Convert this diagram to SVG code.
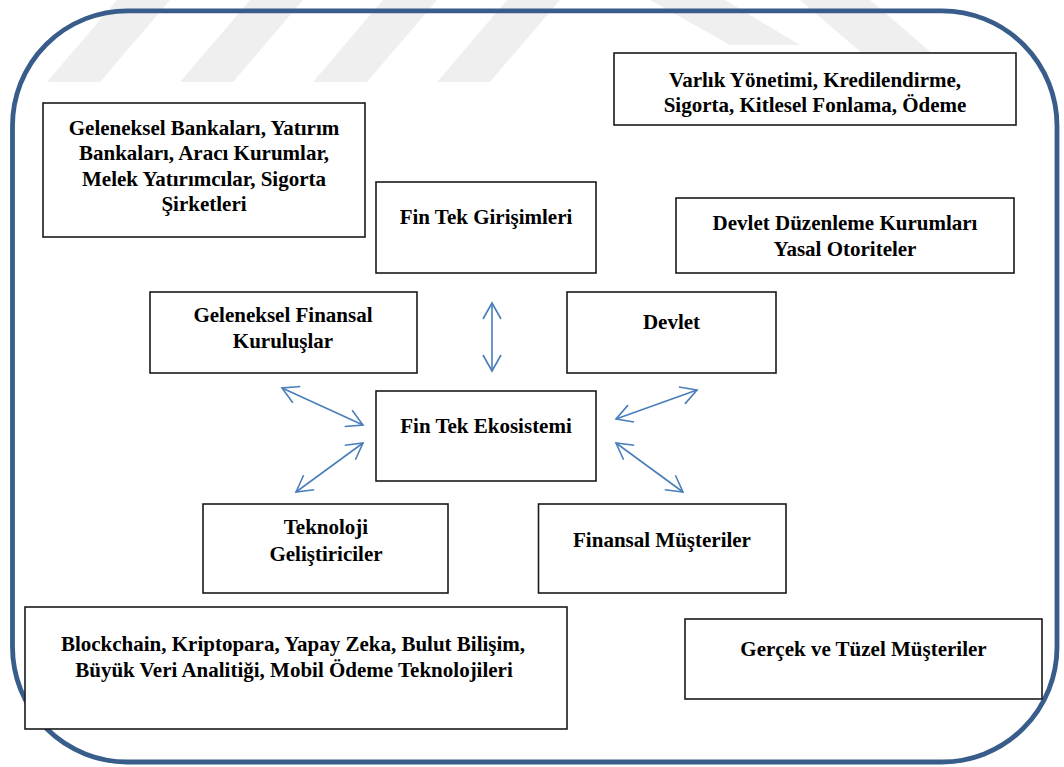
<svg xmlns="http://www.w3.org/2000/svg" width="1064" height="767" viewBox="0 0 1064 767">
  <defs>
    <style>
      .box { fill: #ffffff; stroke: #1a1a1a; stroke-width: 1.6; }
      .lbl { font-family: "Liberation Serif", "Times New Roman", serif; font-weight: bold; font-size: 21px; fill: #000000; text-anchor: middle; }
      .link { fill: none; stroke: #4a7ebb; stroke-width: 1.6; }
      .wm { fill: #efefef; }
    </style>
    <marker id="head" viewBox="0 0 16 18" refX="16" refY="9" markerWidth="16" markerHeight="18" markerUnits="userSpaceOnUse" orient="auto-start-reverse" overflow="visible">
      <path d="M0,0 L16,9 L0,18" fill="none" stroke="#4a7ebb" stroke-width="1.6"/>
    </marker>
  </defs>

  <rect width="1064" height="767" fill="#ffffff"/>

  <!-- faint background stripes -->
  <g id="watermark">
    <polygon class="wm" points="47,82 100,82 170,0 117,0"/>
    <polygon class="wm" points="180,82 233,82 303,0 250,0"/>
    <polygon class="wm" points="313,82 367,82 437,0 383,0"/>
    <polygon class="wm" points="437,82 490,82 560,0 507,0"/>
    <polygon class="wm" points="650,0 725,0 800,45 730,45"/>
    <polygon class="wm" points="800,0 870,0 940,60 870,60"/>
  </g>

  <!-- outer rounded frame -->
  <rect id="frame" x="12.5" y="10.8" width="1044.5" height="751.2" rx="115" ry="115" fill="none" stroke="#385d8a" stroke-width="4.8"/>

  <g id="connectors">
    <line class="link" x1="492" y1="371" x2="492" y2="303" marker-start="url(#head)" marker-end="url(#head)"/>
    <line class="link" x1="363" y1="425" x2="282" y2="388" marker-start="url(#head)" marker-end="url(#head)"/>
    <line class="link" x1="363" y1="443" x2="296" y2="492" marker-start="url(#head)" marker-end="url(#head)"/>
    <line class="link" x1="616" y1="419" x2="697" y2="390" marker-start="url(#head)" marker-end="url(#head)"/>
    <line class="link" x1="616" y1="443" x2="683" y2="492" marker-start="url(#head)" marker-end="url(#head)"/>
  </g>

  <g id="hizmetler">
    <rect class="box" x="614" y="53" width="402" height="72"/>
    <text class="lbl" x="815" y="87">Varlık Yönetimi, Kredilendirme,</text>
    <text class="lbl" x="815" y="112">Sigorta, Kitlesel Fonlama, Ödeme</text>
  </g>

  <g id="geleneksel-kurumlar">
    <rect class="box" x="43" y="103" width="322" height="134"/>
    <text class="lbl" x="204" y="135">Geleneksel Bankaları, Yatırım</text>
    <text class="lbl" x="204" y="160">Bankaları, Aracı Kurumlar,</text>
    <text class="lbl" x="204" y="186">Melek Yatırımcılar, Sigorta</text>
    <text class="lbl" x="204" y="211">Şirketleri</text>
  </g>

  <g id="fintek-girisimleri">
    <rect class="box" x="376" y="182" width="220" height="91"/>
    <text class="lbl" x="486" y="224">Fin Tek Girişimleri</text>
  </g>

  <g id="duzenleyiciler">
    <rect class="box" x="676" y="198" width="338" height="75"/>
    <text class="lbl" x="845" y="230">Devlet Düzenleme Kurumları</text>
    <text class="lbl" x="845" y="256">Yasal Otoriteler</text>
  </g>

  <g id="geleneksel-finansal">
    <rect class="box" x="150" y="292" width="267" height="81"/>
    <text class="lbl" x="283" y="322">Geleneksel Finansal</text>
    <text class="lbl" x="283" y="348">Kuruluşlar</text>
  </g>

  <g id="devlet">
    <rect class="box" x="567" y="292" width="209" height="81"/>
    <text class="lbl" x="671.5" y="329">Devlet</text>
  </g>

  <g id="ekosistem">
    <rect class="box" x="376" y="391" width="220" height="90"/>
    <text class="lbl" x="486" y="433">Fin Tek Ekosistemi</text>
  </g>

  <g id="teknoloji-gelistiriciler">
    <rect class="box" x="203" y="504" width="245" height="89"/>
    <text class="lbl" x="326" y="534">Teknoloji</text>
    <text class="lbl" x="326" y="561">Geliştiriciler</text>
  </g>

  <g id="finansal-musteriler">
    <rect class="box" x="538.5" y="504" width="247.5" height="89"/>
    <text class="lbl" x="662" y="547">Finansal Müşteriler</text>
  </g>

  <g id="teknolojiler">
    <rect class="box" x="25" y="607" width="542" height="122"/>
    <text class="lbl" x="293" y="651">Blockchain, Kriptopara, Yapay Zeka, Bulut Bilişim,</text>
    <text class="lbl" x="294" y="677">Büyük Veri Analitiği, Mobil Ödeme Teknolojileri</text>
  </g>

  <g id="musteriler">
    <rect class="box" x="685" y="619" width="357" height="80"/>
    <text class="lbl" x="863.5" y="656">Gerçek ve Tüzel Müşteriler</text>
  </g>
</svg>
